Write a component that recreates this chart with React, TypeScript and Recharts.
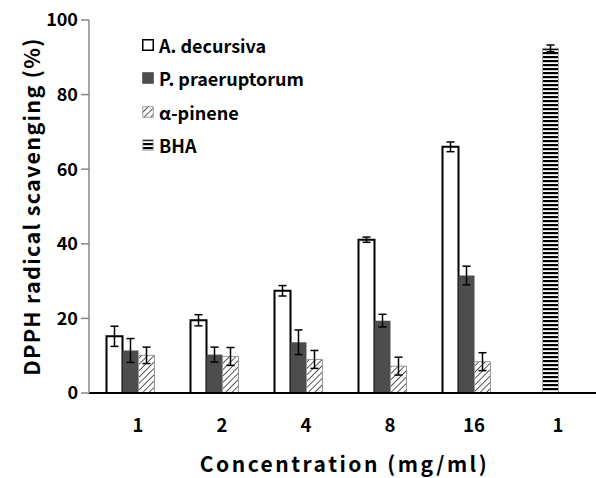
import React from 'react';
import { BarChart, Bar, XAxis, YAxis, ErrorBar } from 'recharts';

const categories = ['1', '2', '4', '8', '16', '1'];
const decursiva = [15.2, 19.5, 27.4, 41.1, 66.0, null];
const decursivaErr = [2.7, 1.5, 1.4, 0.7, 1.3, null];
const praeruptorum = [11.4, 10.3, 13.6, 19.4, 31.5, null];
const praeruptorumErr = [3.2, 2.0, 3.3, 1.7, 2.5, null];
const pinene = [10.1, 9.8, 9.0, 7.2, 8.4, null];
const pineneErr = [2.2, 2.4, 2.4, 2.4, 2.4, null];
const bha = [null, null, null, null, null, 92.4];
const bhaErr = [null, null, null, null, null, 0.9];
const yTicks = [0, 20, 40, 60, 80, 100];

const data = categories.map((c, i) => ({
  name: c,
  decursiva: decursiva[i],
  decursivaErr: decursivaErr[i],
  praeruptorum: praeruptorum[i],
  praeruptorumErr: praeruptorumErr[i],
  pinene: pinene[i],
  pineneErr: pineneErr[i],
  bha: bha[i],
  bhaErr: bhaErr[i],
  spacer: null,
}));

const FONT = '"Noto Sans CJK KR", "Noto Sans", sans-serif';

const legendItems = [
  { label: 'A. decursiva', fill: '#ffffff', stroke: '#000', sw: 1.5 },
  { label: 'P. praeruptorum', fill: '#4d4d4d', stroke: '#4d4d4d', sw: 1 },
  { label: 'α-pinene', fill: 'url(#hatch)', stroke: '#999', sw: 1 },
  { label: 'BHA', fill: 'url(#stripe)', stroke: '#aaa', sw: 1 },
];

const LegendBox = () => (
  <div
    style={{
      position: 'absolute',
      left: 142,
      top: 28,
      fontFamily: FONT,
      fontWeight: 700,
      fontSize: 18,
      color: '#000',
      lineHeight: 1,
    }}
  >
    {legendItems.map((it) => (
      <div key={it.label} style={{ display: 'flex', alignItems: 'center', height: 33.5 }}>
        <svg width={12} height={12} style={{ marginRight: 5 }}>
          <rect x={0.75} y={0.75} width={10.5} height={10.5} fill={it.fill} stroke={it.stroke} strokeWidth={it.sw} />
        </svg>
        <span>{it.label}</span>
      </div>
    ))}
  </div>
);

const XTick = ({ x, y, payload }: any) => (
  <text x={x} y={y + 31} textAnchor="middle" fontFamily={FONT} fontWeight={700} fontSize={18.5} fill="#000">
    {payload.value}
  </text>
);

export default function App() {
  return (
    <div style={{ position: 'absolute', left: 0, top: 0, width: 596, height: 478, overflow: 'hidden', background: '#fff' }}>
      <BarChart
        width={600}
        height={478}
        data={data}
        margin={{ top: 20, right: 0, bottom: 0, left: 0 }}
        barCategoryGap="12.5%"
        barGap={0}
      >
        <defs>
          <pattern id="hatch" patternUnits="userSpaceOnUse" width={4.5} height={4.5} patternTransform="rotate(45)">
            <rect width={4.5} height={4.5} fill="#fff" />
            <line x1={0} y1={0} x2={0} y2={4.5} stroke="#333" strokeWidth={1.6} />
          </pattern>
          <pattern id="stripe" patternUnits="userSpaceOnUse" width={4} height={4}>
            <rect width={4} height={4} fill="#fff" />
            <rect width={4} height={2.2} fill="#000" />
          </pattern>
        </defs>
        <XAxis
          dataKey="name"
          height={85}
          padding={{ left: 7, right: 0 }}
          axisLine={{ stroke: '#000', strokeWidth: 2 }}
          tickLine={false}
          tick={<XTick />}
          interval={0}
          label={{
            value: 'Concentration (mg/ml)',
            position: 'insideBottom',
            offset: 6,
            style: { fontFamily: FONT, fontWeight: 700, fontSize: 21, fill: '#000', letterSpacing: 2.5 },
          }}
        />
        <YAxis
          width={89}
          domain={[0, 100]}
          ticks={yTicks}
          axisLine={{ stroke: '#888', strokeWidth: 1.5 }}
          tickLine={{ stroke: '#888', strokeWidth: 1.5 }}
          tickSize={8}
          tickMargin={3}
          tick={{ fontFamily: FONT, fontWeight: 700, fontSize: 18, fill: '#000' }}
          label={{
            value: 'DPPH radical scavenging (%)',
            angle: -90,
            position: 'insideLeft',
            offset: 32,
            style: { fontFamily: FONT, fontWeight: 700, fontSize: 21.5, fill: '#000', textAnchor: 'middle', letterSpacing: 1.3 },
          }}
        />
        <Bar dataKey="decursiva" stackId="a" fill="#fff" stroke="#000" strokeWidth={2} isAnimationActive={false}>
          <ErrorBar dataKey="decursivaErr" width={4} stroke="#000" strokeWidth={1.5} />
        </Bar>
        <Bar dataKey="praeruptorum" stackId="b" fill="#4d4d4d" isAnimationActive={false}>
          <ErrorBar dataKey="praeruptorumErr" width={4} stroke="#000" strokeWidth={1.5} />
        </Bar>
        <Bar dataKey="bha" stackId="b" fill="url(#stripe)" stroke="#aaa" strokeWidth={1} isAnimationActive={false}>
          <ErrorBar dataKey="bhaErr" width={4} stroke="#000" strokeWidth={1.5} />
        </Bar>
        <Bar dataKey="pinene" stackId="c" fill="url(#hatch)" stroke="#999" strokeWidth={1} isAnimationActive={false}>
          <ErrorBar dataKey="pineneErr" width={4} stroke="#000" strokeWidth={1.5} />
        </Bar>
        <Bar dataKey="spacer" stackId="d" fill="none" legendType="none" isAnimationActive={false} />
      </BarChart>
      <LegendBox />
    </div>
  );
}
